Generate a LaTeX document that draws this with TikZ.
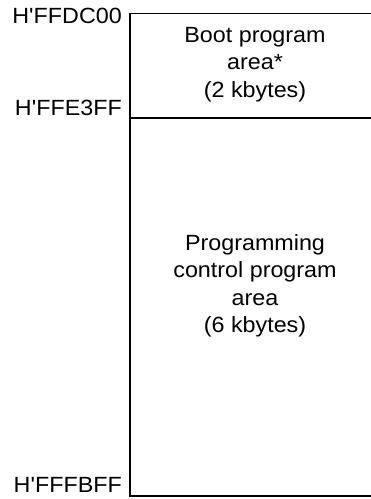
\documentclass[tikz,border=0pt]{standalone}
\usepackage{fontspec}
\setmainfont{Liberation Sans}
\begin{document}
\begin{tikzpicture}[x=1pt,y=1pt,
  lbl/.style={inner sep=0pt, font=\fontsize{22}{27.5}\selectfont, xscale=1.06, transform shape},
  area/.style={lbl, align=center, anchor=north},
  addr/.style={lbl, anchor=base east},
  boxline/.style={line width=1.1pt}]
\useasboundingbox (0,0) rectangle (371,499);
\clip (0,0) rectangle (371,499);
\coordinate (tl) at (130,485.5);
\coordinate (tr) at (380,485.5);
\coordinate (ml) at (130,381);
\coordinate (mr) at (380,381);
\coordinate (bl) at (130,3);
\coordinate (br) at (380,3);
\draw[boxline] (tr) -- (tl) -- (bl) -- (br);
\draw[boxline] (ml) -- (mr);
\node[area] (boot) at (255,472) {Boot program\\area*\\(2 kbytes)};
\node[area] (ctrl) at (255,265) {Programming\\control program\\area\\(6 kbytes)};
\node[addr] (a1) at (122,475.5) {H\textquotesingle FFDC00};
\node[addr] (a2) at (122,383.5) {H\textquotesingle FFE3FF};
\node[addr] (a3) at (122,6) {H\textquotesingle FFFBFF};
\end{tikzpicture}
\end{document}
